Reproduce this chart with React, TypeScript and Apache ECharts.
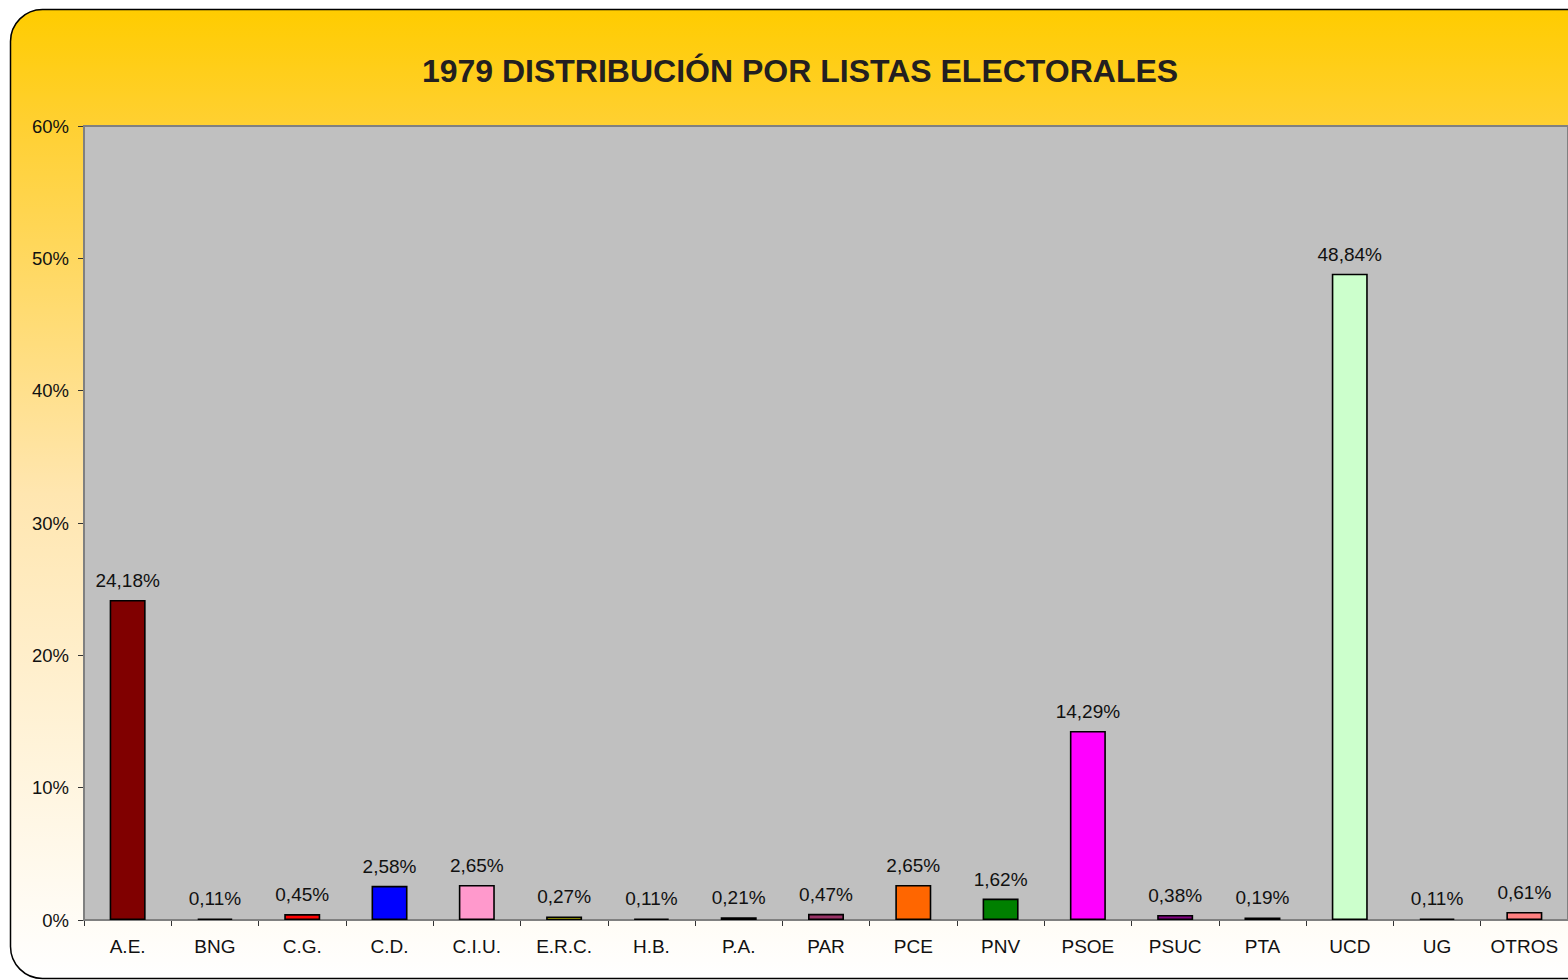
import React, { useEffect, useRef } from "react";
import * as echarts from "echarts";

const categories = ["A.E.", "BNG", "C.G.", "C.D.", "C.I.U.", "E.R.C.", "H.B.", "P.A.", "PAR", "PCE", "PNV", "PSOE", "PSUC", "PTA", "UCD", "UG", "OTROS"];
const values = [24.18, 0.11, 0.45, 2.58, 2.65, 0.27, 0.11, 0.21, 0.47, 2.65, 1.62, 14.29, 0.38, 0.19, 48.84, 0.11, 0.61];
const barColors = ["#800000", "#000000", "#FF0000", "#0000FF", "#FF99CC", "#FFFF00", "#000000", "#330033", "#993366", "#FF6600", "#008000", "#FF00FF", "#800080", "#333F4F", "#CCFFCC", "#000000", "#FF8080"];
const titleText = "1979 DISTRIBUCIÓN POR LISTAS ELECTORALES";

const FONT = "'Liberation Sans', Arial, sans-serif";

export default function App() {
  const ref = useRef<HTMLDivElement>(null);
  useEffect(() => {
    document.body.style.margin = "0";
    const chart = echarts.init(ref.current!, null, { renderer: "svg" });
    chart.setOption({
      animation: false,
      backgroundColor: "#ffffff",
      title: {
        text: titleText,
        left: 795,
        textAlign: "center",
        top: 50,
        textStyle: { fontFamily: FONT, fontSize: 32, fontWeight: "bold", color: "#231F20" },
      },
      graphic: [
        {
          type: "rect",
          z: -10,
          zlevel: 0,
          silent: true,
          shape: { x: 10.5, y: 9.5, width: 1620, height: 969, r: 32 },
          style: {
            fill: new echarts.graphic.LinearGradient(0, 0, 0, 1, [
              { offset: 0, color: "#FFCC00" },
              { offset: 0.12, color: "#FFD032" },
              { offset: 0.5, color: "#FFE6B0" },
              { offset: 1, color: "#FFFFFF" },
            ]),
            stroke: "#000000",
            lineWidth: 1.5,
          },
        },
      ],
      grid: {
        left: 84,
        top: 126,
        right: 0,
        bottom: 60,
        show: true,
        backgroundColor: "#C0C0C0",
        borderColor: "#808080",
        borderWidth: 2,
        z: 1,
      },
      xAxis: {
        type: "category",
        data: categories,
        axisLine: { lineStyle: { color: "#555555", width: 1 } },
        axisTick: { show: true, interval: 0, length: 6, lineStyle: { color: "#333333" } },
        axisLabel: { interval: 0, hideOverlap: false, fontFamily: FONT, fontSize: 19, color: "#111111", margin: 17 },
      },
      yAxis: {
        type: "value",
        min: 0,
        max: 60,
        interval: 10,
        axisLine: { show: true, lineStyle: { color: "#404040", width: 1 } },
        axisTick: { show: true, length: 6, lineStyle: { color: "#333333" } },
        axisLabel: { fontFamily: FONT, fontSize: 18.5, color: "#111111", margin: 15, formatter: "{value}%" },
        splitLine: { show: true, lineStyle: { color: "#333333", width: 1 } },
      },
      series: [
        {
          type: "bar",
          barWidth: 36,
          data: values.map((v, i) => ({
            value: v,
            itemStyle: { color: barColors[i], borderColor: "#000000", borderWidth: 1.6 },
          })),
          label: {
            show: true,
            position: "top",
            distance: 10,
            fontFamily: FONT,
            fontSize: 19,
            color: "#111111",
            formatter: (p: any) => p.value.toFixed(2).replace(".", ",") + "%",
          },
        },
      ],
    });
    return () => chart.dispose();
  }, []);
  return <div ref={ref} style={{ position: "absolute", left: 0, top: 0, width: 1568, height: 980 }} />;
}
